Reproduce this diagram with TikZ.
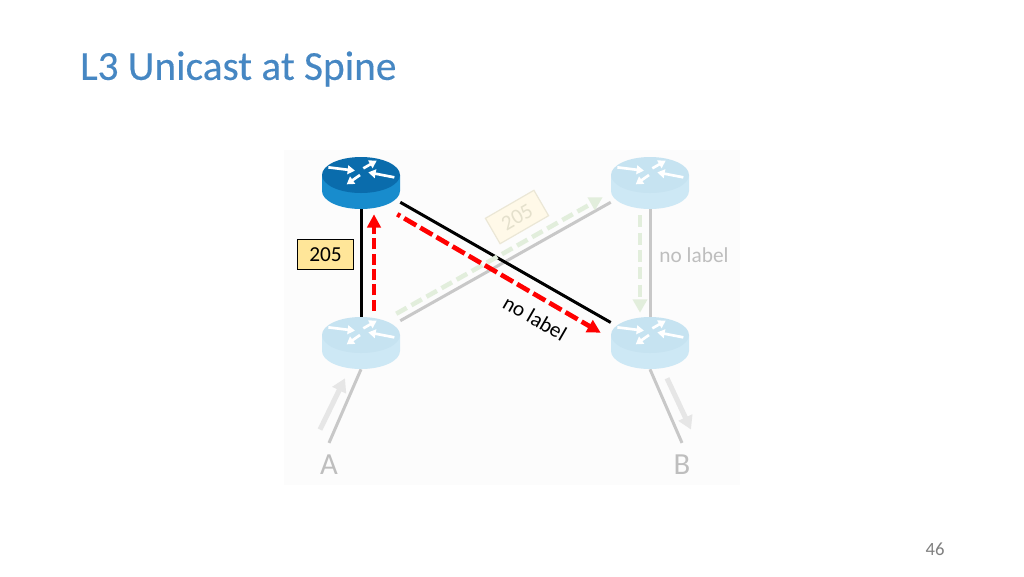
\documentclass[tikz,border=0pt]{standalone}
\usepackage{xcolor}
\usepackage{fontspec}
\setmainfont{Carlito}
\newfontfamily\titlefont[FakeBold=0.3]{Carlito}
\usetikzlibrary{arrows.meta,positioning,calc}
\definecolor{titleblue}{RGB}{70,135,195}
\definecolor{routertop}{RGB}{10,108,172}
\definecolor{routerside}{RGB}{24,140,205}
\definecolor{paletop}{RGB}{198,227,241}
\definecolor{paleside}{RGB}{205,232,245}
\definecolor{palegreen}{RGB}{226,238,220}
\definecolor{palegray}{RGB}{200,200,200}
\definecolor{flowgray}{RGB}{230,230,230}
\definecolor{softtext}{RGB}{190,190,190}
\definecolor{labelgold}{RGB}{255,230,153}
\definecolor{paleboxfill}{RGB}{255,249,232}
\definecolor{paleboxline}{RGB}{235,231,214}
\definecolor{paleboxtext}{RGB}{228,224,204}
\definecolor{panel}{RGB}{252,252,252}
\tikzset{
  routernode/.style={minimum width=58.5pt, minimum height=39pt, inner sep=0pt},
  pics/router/.style 2 args={code={
    \fill[#2] (-29.25pt,6pt) -- (-29.25pt,-6pt) arc[start angle=180, end angle=360, x radius=29.25pt, y radius=13.5pt] -- (29.25pt,6pt) -- cycle;
    \fill[#1] (0,6pt) ellipse[x radius=29.25pt, y radius=13.5pt];
    \foreach \fx/\fy/\tx/\ty in {-24.5/11.75/-4.5/9.25, 1.75/11/11.75/16.75, 25/4.25/5.5/8, -0.75/6/-10.75/-1} {
      \draw[white, line width=2pt, -{Triangle[length=5.5pt,width=6.5pt]}] (\fx pt,\fy pt) -- (\tx pt,\ty pt);
    }
  }},
  blackline/.style={black, line width=2.25pt},
  grayline/.style={palegray, line width=2.25pt},
  redflow/.style={red, line width=3.5pt, dash pattern=on 10.5pt off 3.5pt, -{Triangle[length=10pt,width=10pt]}},
  greenflow/.style={palegreen, line width=3.4pt, dash pattern=on 9pt off 4pt, -{Triangle[length=10pt,width=10.5pt]}},
  grayflow/.style={flowgray, line width=3.8pt, -{Triangle[length=10pt,width=11pt]}},
  linklabel/.style={font=\fontsize{16pt}{18pt}\selectfont, inner sep=0pt},
  hostlabel/.style={font=\fontsize{23pt}{26pt}\selectfont, text=softtext, inner sep=1pt},
}
\begin{document}
\begin{tikzpicture}[x=0.75pt, y=-0.75pt]
\useasboundingbox (0,0) rectangle (1024,576);
\fill[white] (0,0) rectangle (1024,576);
\fill[panel] (284,150) rectangle (740,485);
% title and page number
\node[font=\titlefont\fontsize{31pt}{36pt}\selectfont, text=titleblue, anchor=west, inner sep=0pt] (title) at (80,69) {L3 Unicast at Spine};
\node[font=\fontsize{14pt}{16pt}\selectfont, text=gray, inner sep=0pt] (page) at (935,549) {46};
% routers, drawn later on top of the links
\node[routernode] (spine1) at (361,183) {};
\node[routernode] (spine2) at (650,183) {};
\node[routernode] (leaf1) at (361,343) {};
\node[routernode] (leaf2) at (650,343) {};
\node[hostlabel] (hosta) at (329,465) {A};
\node[hostlabel] (hostb) at (682,465) {B};
% faded links
\draw[grayline] ([yshift=-3pt]leaf1.north east) -- ([yshift=5.25pt]spine2.south west);
\draw[grayline] (spine2.south) -- (leaf2.north);
\draw[grayline] (leaf1.south) -- ([yshift=8pt]hosta.north);
\draw[grayline] (leaf2.south) -- ([yshift=8pt]hostb.north);
% active links
\draw[blackline] (spine1.south) -- (leaf1.north);
\draw[blackline] ([yshift=5.25pt]spine1.south east) -- ([yshift=-4.3pt]leaf2.north west);
% faded flows
\draw[greenflow] ([xshift=-3pt,yshift=2.25pt]leaf1.north east) -- ([xshift=-6pt,yshift=9pt]spine2.south west);
\draw[greenflow] ([xshift=-7.5pt,yshift=-4.5pt]spine2.south) -- ([xshift=-7.5pt,yshift=3pt]leaf2.north);
\draw[grayflow] ([xshift=-6.75pt,yshift=18pt]hosta.north) -- ([xshift=-12pt,yshift=-6.75pt]leaf1.south);
\draw[grayflow] ([xshift=12.75pt,yshift=-6.75pt]leaf2.south) -- ([xshift=6.75pt,yshift=18pt]hostb.north);
% red flows
\draw[redflow, dash pattern=on 8.25pt off 3.25pt] ([xshift=9.75pt,yshift=4.5pt]leaf1.north) -- ([xshift=9.75pt,yshift=-3.75pt]spine1.south);
\draw[redflow, dash phase=8pt] ([xshift=-2.25pt,yshift=-3.75pt]spine1.south east) -- ([xshift=-7.5pt,yshift=-12pt]leaf2.north west);
% routers
\pic at (spine1) {router={routertop}{routerside}};
\pic at (spine2) {router={paletop}{paleside}};
\pic at (leaf1) {router={paletop}{paleside}};
\pic at (leaf2) {router={paletop}{paleside}};
% labels
\node[linklabel, draw=black, line width=0.9pt, fill=labelgold, minimum width=42pt, minimum height=22pt] (tag205) at (325.5,254.5) {205};
\node[linklabel, draw=paleboxline, line width=0.9pt, fill=paleboxfill, text=paleboxtext, minimum width=42pt, minimum height=22pt, rotate=30] (tagfaded) at (517,217) {205};
\node[linklabel, rotate=-30] (nolabela) at (535,318) {no label};
\node[linklabel, text=softtext] (nolabelb) at (694,255) {no label};
\end{tikzpicture}
\end{document}
